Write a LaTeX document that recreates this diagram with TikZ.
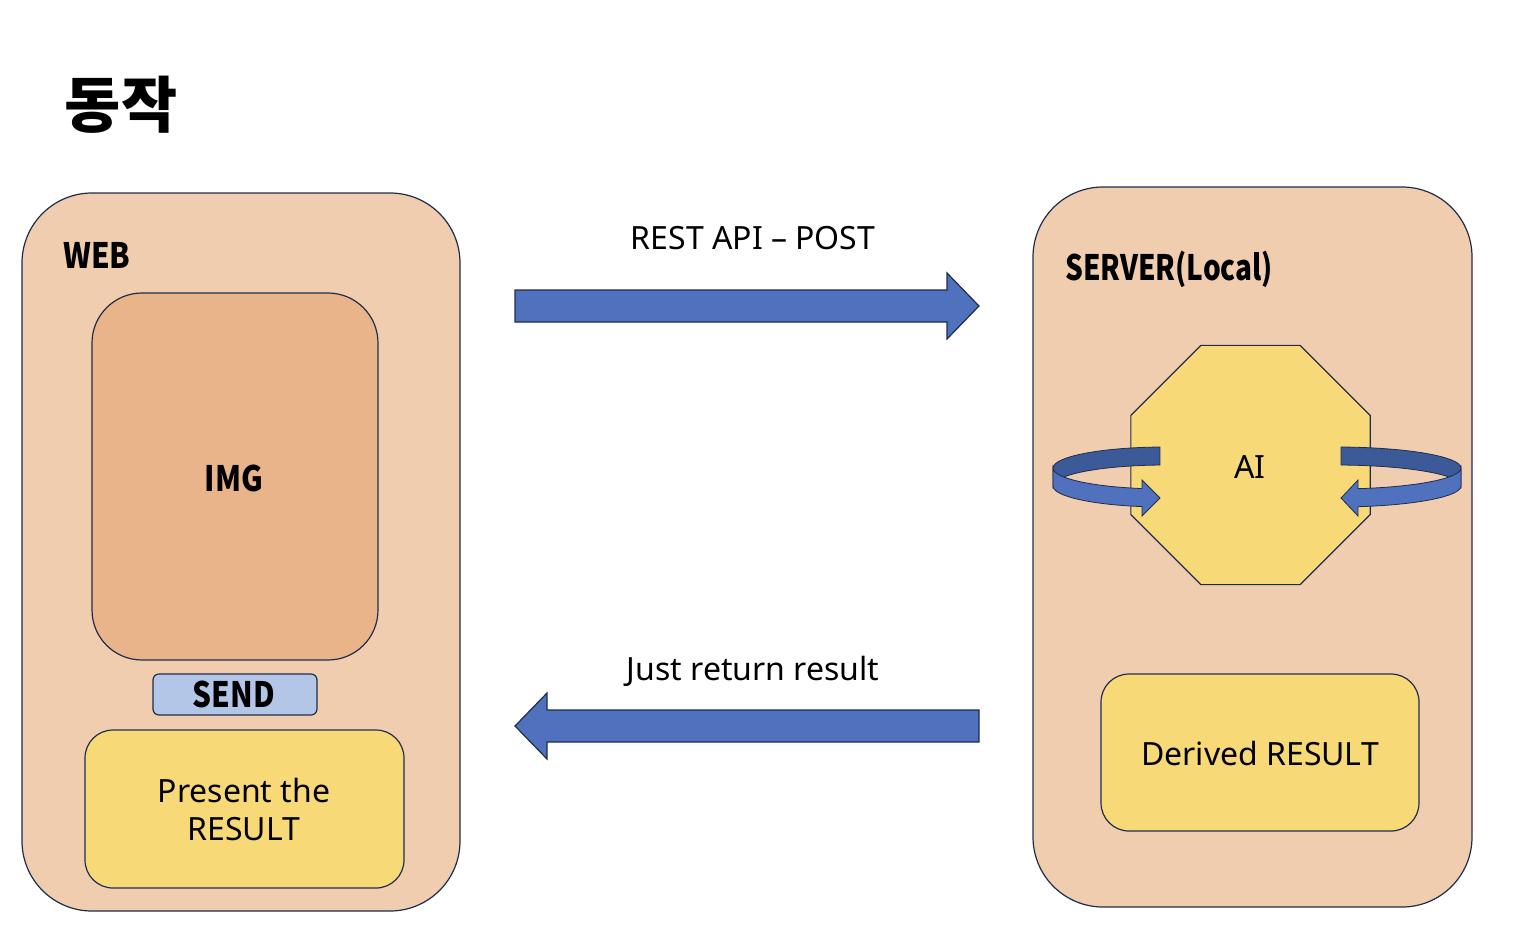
\documentclass[tikz,border=0pt]{standalone}
\usepackage{fontspec}
\setmainfont{Noto Sans}
\newfontfamily\krfont{Noto Sans CJK KR}
\usetikzlibrary{shapes.geometric}
\definecolor{peach}{HTML}{F1CDB0}
\definecolor{imgc}{HTML}{E9B48A}
\definecolor{sendc}{HTML}{B4C6E7}
\definecolor{yel}{HTML}{F8D978}
\definecolor{blu}{HTML}{4F71BE}
\definecolor{bluedark}{HTML}{3C5A98}
\definecolor{edge}{HTML}{1F2D4D}
\newcommand{\narrow}[2][0.85]{\scalebox{#1}[1]{#2}}
\begin{document}
\begin{tikzpicture}[x=1pt,y=-1pt,
  box/.style={draw=edge, line width=1.2pt, rectangle, inner sep=0pt},
  bigbox/.style={box, fill=peach, rounded corners=70pt},
  reg/.style={inner sep=0pt, font=\fontsize{32}{38}\selectfont},
  bld/.style={inner sep=0pt, font=\krfont\bfseries\fontsize{35}{40}\selectfont},
  blockarrow/.style={fill=blu, draw=edge, line width=1.2pt, line join=miter},
  ribbonback/.style={fill=bluedark, draw=edge, line width=0.8pt},
  ribbonfront/.style={fill=blu, draw=edge, line width=0.8pt}]
\useasboundingbox[fill=white] (0,0) rectangle (1522,932);

% title
\node[inner sep=0pt, font=\krfont\bfseries\fontsize{61}{66}\selectfont] (title) at (121,105) {동작};

% WEB panel
\node[bigbox, minimum width=438pt, minimum height=718pt] (web) at (241,552) {};
\node[bld, anchor=base west] (weblbl) at (63,268) {\narrow{WEB}};
\node[box, fill=imgc, rounded corners=50pt, minimum width=286pt, minimum height=367pt] (img) at (235,476.5) {};
\node[bld, anchor=base] (imglbl) at (234,491) {\narrow{IMG}};
\node[box, fill=sendc, rounded corners=6pt, minimum width=164pt, minimum height=41pt] (send) at (235,694.5) {};
\node[bld, anchor=base] (sendlbl) at (234,707) {\narrow{SEND}};
\node[box, fill=yel, rounded corners=28pt, minimum width=319pt, minimum height=158pt] (present) at (244.5,809) {};
\node[reg, align=center, anchor=center] (presentlbl) at (244,809) {Present the\\RESULT};

% SERVER panel
\node[bigbox, minimum width=439pt, minimum height=720pt] (server) at (1252.5,547) {};
\node[bld, anchor=base west] (serverlbl) at (1065,280) {\narrow[0.8]{SERVER(Local)}};
\node[draw=edge, line width=1.2pt, fill=yel, regular polygon, regular polygon sides=8, minimum size=259pt, inner sep=0pt] (ai) at (1250.5,465) {};
\node[box, fill=yel, rounded corners=28pt, minimum width=318pt, minimum height=157pt] (derived) at (1260,752.5) {};
\node[reg, anchor=base] (derivedlbl) at (1260,765) {Derived RESULT};

% circular arrows around AI
\path[ribbonback] (1165,468) ++(267.4:112 and 21)
  arc[start angle=267.4, end angle=180, x radius=112, y radius=21]
  -- ++(0,18)
  arc[start angle=180, end angle=267.4, x radius=112, y radius=21] -- cycle;
\path[ribbonfront] (1053,468)
  arc[start angle=180, end angle=101.85, x radius=112, y radius=21]
  -- (1142,480) -- (1160,498) -- (1142,516) -- (1142,506.6)
  arc[start angle=101.85, end angle=180, x radius=112, y radius=21] -- cycle;

\path[ribbonback] (1336,468) ++(272.3:125 and 21)
  arc[start angle=272.3, end angle=360, x radius=125, y radius=21]
  -- ++(0,18)
  arc[start angle=360, end angle=272.3, x radius=125, y radius=21] -- cycle;
\path[ribbonfront] (1461,468)
  arc[start angle=0, end angle=79.86, x radius=125, y radius=21]
  -- (1358,480) -- (1341,498) -- (1358,516) -- (1358,506.7)
  arc[start angle=79.86, end angle=0, x radius=125, y radius=21] -- cycle;

\node[reg, anchor=base] (ailbl) at (1250,478) {AI};

% block arrows
\path[blockarrow] (515,290) -- (947,290) -- (947,273) -- (979,306) -- (947,339) -- (947,322) -- (515,322) -- cycle;
\node[reg, anchor=base] (postlbl) at (753,249) {REST API – POST};
\path[blockarrow] (979,710) -- (547,710) -- (547,693) -- (515,726) -- (547,759) -- (547,742) -- (979,742) -- cycle;
\node[reg, anchor=base] (retlbl) at (753,680) {Just return result};
\end{tikzpicture}
\end{document}
